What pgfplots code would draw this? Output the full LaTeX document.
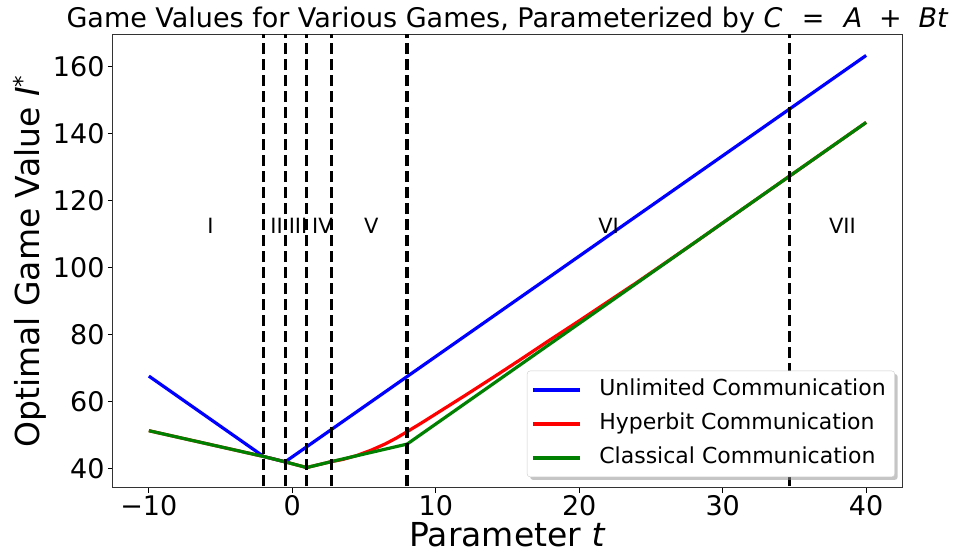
\documentclass[border=0pt]{standalone}
\usepackage{fontspec}
\setmainfont{DejaVu Sans}
\usepackage{pgfplots}
\pgfplotsset{compat=1.18}
\usetikzlibrary{shadows}
\makeatletter
\tikzset{no preactions/.code={\let\tikz@preactions\pgfutil@empty}}
\makeatother
\definecolor{mplblue}{RGB}{0,0,255}
\definecolor{mplred}{RGB}{255,0,0}
\definecolor{mplgreen}{RGB}{0,128,0}
\begin{document}
\begin{tikzpicture}
\begin{axis}[
  at={(113pt,65pt)}, anchor=south west,
  scale only axis, width=789pt, height=453pt,
  xmin=-12.5, xmax=42.5, ymin=34.2, ymax=169.4,
  xtick={-10,0,10,20,30,40},
  xticklabels={−10,0,10,20,30,40},
  ytick={40,60,...,160},
  /pgf/number format/assume math mode=true,
  tick label style={font=\fontsize{27}{32}\selectfont},
  xticklabel style={yshift=1pt},
  xtick pos=bottom, ytick pos=left,
  tick align=outside, major tick length=5pt,
  tick style={black, line width=1pt},
  axis line style={black!80, line width=1pt},
  title={Game Values for Various Games, Parameterized by \textit{C}\hspace{0.72em}=\hspace{0.72em}\textit{A}\hspace{0.62em}+\hspace{0.62em}\textit{Bt}},
  title style={font=\fontsize{27}{32}\selectfont, at={(0.5,1)}, anchor=base, yshift=1pt},
  xlabel={Parameter \textit{t}},
  ylabel={Optimal Game Value \textit{I}\textsuperscript{*}},
  label style={font=\fontsize{33}{40}\selectfont},
  xlabel style={yshift=0.5pt},
  legend cell align=left,
  legend style={at={(0.991,0.024)}, anchor=south east,
    font=\fontsize{22}{26}\selectfont,
    draw=black!20, fill=white, rounded corners=3pt,
    inner xsep=4pt, inner ysep=5.5pt, row sep=7pt, column sep=13pt,
    nodes={no preactions, inner xsep=5pt, inner ysep=3pt, text height=16pt, text depth=5pt},
    drop shadow={shadow xshift=3pt, shadow yshift=-3pt, fill=black!45, opacity=0.5}},
  legend image code/.code={\draw[no preactions,#1] (0pt,0pt) -- (47pt,0pt);},
]
\addplot[mplblue, line width=3.2pt] coordinates {(-10,67.6) (-2,43.6) (-0.5,42.0) (40,163.3)};
\addlegendentry{Unlimited Communication}
\addplot[mplred, line width=3.2pt] coordinates {(-10,51.3) (-2,43.6) (-0.5,42.0) (1,40.3) (2.75,42.1) (3.5,42.7) (4.5,43.9) (5.5,45.5) (6.5,47.4) (7.25,49.1) (8,51.0) (9,53.6) (10,56.3) (12,61.7) (14,67.2) (16,72.8) (18,78.5) (20,84.1) (22,89.8) (24,95.5) (26,101.4) (28,107.3) (40,143.3)};
\addlegendentry{Hyperbit Communication}
\addplot[mplgreen, line width=3.2pt] coordinates {(-10,51.3) (-2,43.6) (-0.5,42.0) (1,40.3) (2.75,42.1) (8,47.3) (40,143.3)};
\addlegendentry{Classical Communication}
\addplot[black, line width=3.2pt, dash pattern=on 11.5pt off 4.5pt, forget plot] coordinates {(-2,30) (-2,175)};
\addplot[black, line width=3.2pt, dash pattern=on 11.5pt off 4.5pt, forget plot] coordinates {(-0.5,30) (-0.5,175)};
\addplot[black, line width=3.2pt, dash pattern=on 11.5pt off 4.5pt, forget plot] coordinates {(1,30) (1,175)};
\addplot[black, line width=3.2pt, dash pattern=on 11.5pt off 4.5pt, forget plot] coordinates {(2.75,30) (2.75,175)};
\addplot[black, line width=3.2pt, dash pattern=on 11.5pt off 4.5pt, forget plot] coordinates {(8,30) (8,175)};
\addplot[black, line width=3.2pt, dash pattern=on 11.5pt off 4.5pt, forget plot] coordinates {(34.67,30) (34.67,175)};
\begin{scope}[font=\fontsize{21}{25}\selectfont]
\node at (axis cs:-5.7,112.5) {I};
\node at (axis cs:-1.1,112.5) {II};
\node at (axis cs:0.4,112.5) {III};
\node at (axis cs:2.1,112.5) {IV};
\node at (axis cs:5.5,112.5) {V};
\node at (axis cs:22.05,112.5) {VI};
\node at (axis cs:38.35,112.5) {VII};
\end{scope}
\end{axis}
\pgfresetboundingbox
\path[use as bounding box] (0,0) rectangle (964pt,553pt);
\end{tikzpicture}
\end{document}
